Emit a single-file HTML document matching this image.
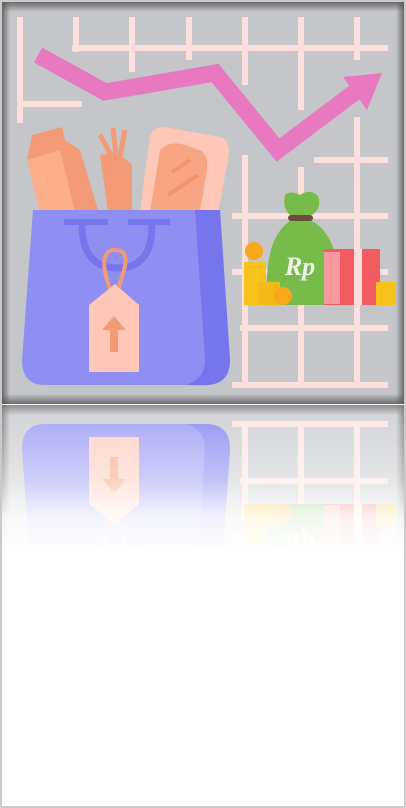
<!DOCTYPE html>
<html><head><meta charset="utf-8"><style>
html,body{margin:0;padding:0;background:#fff;width:406px;height:808px;overflow:hidden}
svg{display:block}
</style></head><body>
<svg width="406" height="808" viewBox="0 0 406 808">
<defs>
<linearGradient id="fade" x1="0" y1="0" x2="0" y2="1">
<stop offset="0" stop-color="#fff" stop-opacity="0.2"/>
<stop offset="0.5" stop-color="#fff" stop-opacity="0.55"/>
<stop offset="0.75" stop-color="#fff" stop-opacity="0.9"/>
<stop offset="1" stop-color="#fff" stop-opacity="1"/>
</linearGradient>
<linearGradient id="vigT" x1="0" y1="0" x2="0" y2="1"><stop offset="0" stop-color="#555" stop-opacity="0.8"/><stop offset="1" stop-color="#555" stop-opacity="0"/></linearGradient>
<linearGradient id="vigL" x1="0" y1="0" x2="1" y2="0"><stop offset="0" stop-color="#555" stop-opacity="0.8"/><stop offset="1" stop-color="#555" stop-opacity="0"/></linearGradient>
<clipPath id="clipTop"><rect x="2" y="2" width="402" height="402"/></clipPath>
</defs>
<g id="art" clip-path="url(#clipTop)">
<rect x="2" y="2" width="402" height="402" fill="#c4c6ca"/>
<g stroke="#fde0db" stroke-width="6" fill="none">
<line x1="20" y1="17" x2="20" y2="123"/><line x1="76" y1="17" x2="76" y2="52"/>
<line x1="132" y1="17" x2="132" y2="72"/><line x1="189" y1="17" x2="189" y2="60"/>
<line x1="245" y1="17" x2="245" y2="85"/><line x1="301" y1="17" x2="301" y2="110"/>
<line x1="357" y1="17" x2="357" y2="60"/>
<line x1="72" y1="48" x2="388" y2="48"/><line x1="18" y1="104" x2="82" y2="104"/>
<line x1="245" y1="155" x2="245" y2="385"/><line x1="301" y1="167" x2="301" y2="385"/>
<line x1="357" y1="117" x2="357" y2="385"/>
<line x1="314" y1="160" x2="388" y2="160"/><line x1="232" y1="216" x2="388" y2="216"/>
<line x1="232" y1="272" x2="388" y2="272"/><line x1="240" y1="328" x2="388" y2="328"/>
<line x1="232" y1="385" x2="388" y2="385"/>
</g>
<g>
<polyline points="38,55 105,92 215,73 278,150 355,92" fill="none" stroke="#e879c0" stroke-width="17" stroke-linejoin="miter"/>
<polygon points="343,77 382,73 367,110" fill="#e879c0"/>
</g>
<g>
<polygon points="32,135 62,127 65,140 80,150 98,210 40,212 27,160" fill="#f39b76"/>
<polygon points="27,160 60,150 75,212 40,212" fill="#faae8a"/>
</g>
<g>
<path d="M100,155 Q118,150 132,165 L132,212 L108,212 Z" fill="#f39b76"/>
<line x1="112" y1="157" x2="100" y2="135" stroke="#f39b76" stroke-width="5"/>
<line x1="116" y1="155" x2="113" y2="128" stroke="#f39b76" stroke-width="5"/>
<line x1="120" y1="157" x2="125" y2="130" stroke="#f39b76" stroke-width="5"/>
</g>
<g>
<path d="M150,135 Q155,125 170,128 L220,137 Q230,140 229,155 L218,212 L140,212 Z" fill="#fec7b6"/>
<path d="M160,150 Q170,140 185,145 L200,150 Q210,155 206,175 L200,212 L150,212 Z" fill="#f7a582"/>
<line x1="172" y1="172" x2="190" y2="160" stroke="#ef9670" stroke-width="4"/>
<line x1="168" y1="195" x2="198" y2="175" stroke="#ef9670" stroke-width="4"/>
</g>
<g>
<path d="M33,210 L220,210 L230,360 Q230,385 205,385 L45,385 Q22,385 22,360 Z" fill="#8f8ef2"/>
<path d="M195,210 L220,210 L230,360 Q230,385 205,385 L185,385 Q205,380 205,360 Z" fill="#7675ee"/>
<rect x="64" y="219" width="44" height="6" fill="#7675ee"/><rect x="128" y="219" width="42" height="6" fill="#7675ee"/>
<path d="M82,225 Q82,268 118,268 Q152,268 152,225" fill="none" stroke="#7675ee" stroke-width="7"/>
<path d="M115,302 Q95,255 112,250 Q130,248 124,270 L118,290" fill="none" stroke="#f39b76" stroke-width="4"/>
<polygon points="89,305 115,284 139,305 139,372 89,372" fill="#fec7b6"/>
<polygon points="102,330 114,316 126,330 118,330 118,352 110,352 110,330" fill="#f39b76"/>
</g>
<g>
<path d="M285,195 Q290,190 300,195 Q310,188 318,196 Q322,208 312,215 L290,215 Q282,208 285,195Z" fill="#77bb4b"/>
<rect x="288" y="215" width="25" height="6" rx="3" fill="#6b4b3b"/>
<path d="M290,221 Q262,240 268,305 L335,305 Q345,240 312,221 Z" fill="#77bb4b"/>
<text x="300" y="275" font-family="Liberation Serif, serif" font-style="italic" font-weight="bold" font-size="26" fill="#f1f6ea" text-anchor="middle">Rp</text>
</g>
<g>
<rect x="244" y="262" width="22" height="43" fill="#f6c21b"/>
<rect x="258" y="282" width="22" height="23" fill="#f4b914"/>
<circle cx="254" cy="251" r="9" fill="#f7a81b"/><circle cx="283" cy="296" r="9" fill="#f7a81b"/>
<rect x="324" y="249" width="56" height="56" fill="#f25b60"/>
<rect x="324" y="252" width="16" height="52" fill="#f79aa0"/>
<rect x="354" y="249" width="8" height="56" fill="#fff" opacity="0.8"/>
<rect x="376" y="282" width="20" height="23" fill="#f6c21b"/>
</g>
<rect x="2" y="2" width="402" height="10" fill="url(#vigT)"/>
<rect x="2" y="394" width="402" height="10" fill="url(#vigT)" transform="rotate(180 203 399)"/>
<rect x="2" y="2" width="8" height="402" fill="url(#vigL)"/>
<rect x="396" y="2" width="8" height="402" fill="url(#vigL)" transform="rotate(180 400 203)"/>
</g>
<g>
<use href="#art" transform="translate(0,809) scale(1,-1)"/>
<rect x="0" y="404" width="406" height="150" fill="url(#fade)"/>
<rect x="0" y="554" width="406" height="254" fill="#fff"/>
</g>
<rect x="1" y="1" width="404" height="806" fill="none" stroke="#8a8a8a" stroke-width="1.5" opacity="0.6"/>
</svg>
</body></html>
